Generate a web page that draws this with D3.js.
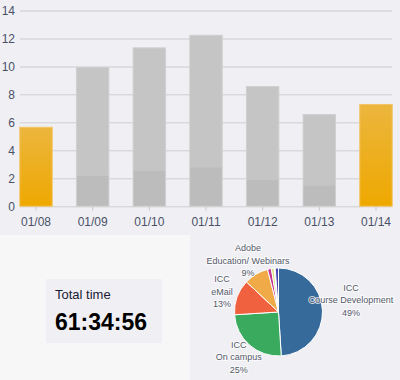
<!DOCTYPE html>
<html><head><meta charset="utf-8">
<script src="https://cdn.jsdelivr.net/npm/d3@7"></script>
<style>html,body{margin:0;padding:0;background:#f0f0f4;}svg{display:block;font-family:"Liberation Sans",Arial,sans-serif;}</style>
</head><body>
<svg id="c" width="400" height="380"></svg>
<script>
// ---- data ----
const dates = ["01/08","01/09","01/10","01/11","01/12","01/13","01/14"];
const totalHours = [5.72, 10.0, 11.4, 12.3, 8.63, 6.63, 7.35];
const lowerHours = [0, 2.2, 2.55, 2.8, 1.9, 1.5, 0];
const highlighted = [true, false, false, false, false, false, true];
const yTicks = [0, 2, 4, 6, 8, 10, 12, 14];

const pieNames = ["ICC\nCourse Development", "ICC\nOn campus", "ICC\neMail", "Adobe\nEducation/ Webinars", "Other A", "Other B", "Other C", "Other D"];
const pieValues = [49, 25, 13, 9, 1.4, 1.0, 0.4, 1.2];
const pieColors = ["#356a9b", "#3aab5e", "#f0623f", "#f0aa47", "#c2338f", "#d6e27a", "#f4f4e0", "#4a46b0"];
const labelled = [true, true, true, true, false, false, false, false];

const totalTimeLabel = "Total time";
const totalTimeValue = "61:34:56";

// ---- drawing ----
const svg = d3.select("#c");
svg.append("rect").attr("width", 400).attr("height", 380).attr("fill", "#f0f0f4");

// bar chart
const x = d3.scaleBand().domain(dates).range([19.3, 392.7]).paddingInner(0.41).paddingOuter(0);
const y = d3.scaleLinear().domain([0, 14]).range([206.7, 11]);

const defs = svg.append("defs");
const g = defs.append("linearGradient").attr("id", "og").attr("x1", 0).attr("y1", 0).attr("x2", 0).attr("y2", 1);
g.append("stop").attr("offset", "0%").attr("stop-color", "#ecb63e");
g.append("stop").attr("offset", "100%").attr("stop-color", "#eea800");

const grid = svg.append("g");
grid.selectAll("line").data(yTicks).join("line")
  .attr("x1", 20).attr("x2", 392)
  .attr("y1", d => y(d)).attr("y2", d => y(d))
  .attr("stroke", "#d9d9dd").attr("stroke-width", 1.5);

const yAxis = d3.axisLeft(y).tickValues(yTicks).tickSize(0).tickPadding(0).tickFormat(d3.format("d"));
svg.append("g").attr("transform", "translate(15,0)").call(yAxis)
  .call(a => a.select(".domain").remove())
  .call(a => a.selectAll("text").attr("font-size", 12).attr("fill", "#4a5068").attr("font-family", "Liberation Sans, Arial, sans-serif"));

const xAxis = d3.axisBottom(x).tickSize(4).tickPadding(7);
svg.append("g").attr("transform", `translate(0,${y(0)})`).call(xAxis)
  .call(a => a.select(".domain").remove())
  .call(a => a.selectAll("line").attr("stroke", "#c8c8cc"))
  .call(a => a.selectAll("text").attr("font-size", 12).attr("fill", "#4a5068").attr("font-family", "Liberation Sans, Arial, sans-serif"));

const bars = svg.append("g");
dates.forEach((d, i) => {
  const bx = x(d), bw = x.bandwidth();
  if (highlighted[i]) {
    bars.append("rect").attr("x", bx + 0.5).attr("y", y(totalHours[i]) + 0.5)
      .attr("width", bw - 1).attr("height", y(0) - y(totalHours[i]) - 1)
      .attr("fill", "url(#og)").attr("stroke", "#f2c462").attr("stroke-width", 1);
  } else {
    bars.append("rect").attr("x", bx + 0.5).attr("y", y(totalHours[i]) + 0.5)
      .attr("width", bw - 1).attr("height", y(0) - y(totalHours[i]) - 1)
      .attr("fill", "#c5c5c5").attr("stroke", "#d0d0d0").attr("stroke-width", 1);
    bars.append("rect").attr("x", bx + 1).attr("y", y(lowerHours[i]))
      .attr("width", bw - 2).attr("height", y(0) - y(lowerHours[i]) - 1)
      .attr("fill", "#bcbcbc");
  }
});

// bottom-left panel
svg.append("rect").attr("x", 0).attr("y", 235).attr("width", 190).attr("height", 145).attr("fill", "#f7f7f7");
svg.append("rect").attr("x", 46).attr("y", 279).attr("width", 116).attr("height", 64).attr("fill", "#f0f0f4");
svg.append("text").attr("x", 55).attr("y", 299).attr("font-size", 13).attr("fill", "#1a1a33").text(totalTimeLabel);
svg.append("text").attr("x", 55).attr("y", 329.5).attr("font-size", 23).attr("font-weight", "bold").attr("fill", "#000").text(totalTimeValue);

// pie
const cx = 278.5, cy = 312, r = 44;
const pie = d3.pie().sort(null).value(d => d.v);
const pdata = pie(pieValues.map((v, i) => ({ v, i })));
const arc = d3.arc().innerRadius(0).outerRadius(r);
const pg = svg.append("g").attr("transform", `translate(${cx},${cy})`);
pg.selectAll("path").data(pdata).join("path")
  .attr("d", arc).attr("fill", d => pieColors[d.data.i])
  .attr("stroke", "#ffffff").attr("stroke-width", 1);

const total = d3.sum(pieValues);
const lr = 60;
pdata.forEach(d => {
  if (!labelled[d.data.i]) return;
  const a = (d.startAngle + d.endAngle) / 2;
  const lines = pieNames[d.data.i].split("\n").concat([Math.round(d.data.v / total * 100) + "%"]);
  const t = pg.append("text").attr("text-anchor", "middle").attr("font-size", 9)
    .attr("fill", "#55596a").attr("stroke", "#ffffff").attr("stroke-width", 2)
    .attr("stroke-opacity", 0.7).attr("paint-order", "stroke");
  lines.forEach((s, k) => t.append("tspan").attr("x", 0).attr("dy", k === 0 ? 0 : 12.5).text(s));
  const bb = t.node().getBBox();
  const hw = bb.width / 2;
  let lx = Math.sin(a) * lr, ly = -Math.cos(a) * lr;
  // push wide labels that sit beside the pie a bit further out and up
  if (Math.abs(Math.sin(a)) > 0.95) { lx += Math.sign(Math.sin(a)) * Math.max(0, hw - 30); ly -= 10; }
  const blockH = (lines.length - 1) * 12.5;
  t.attr("transform", `translate(${lx},${ly - blockH / 2 + 3.2})`);
});
</script>
</body></html>
